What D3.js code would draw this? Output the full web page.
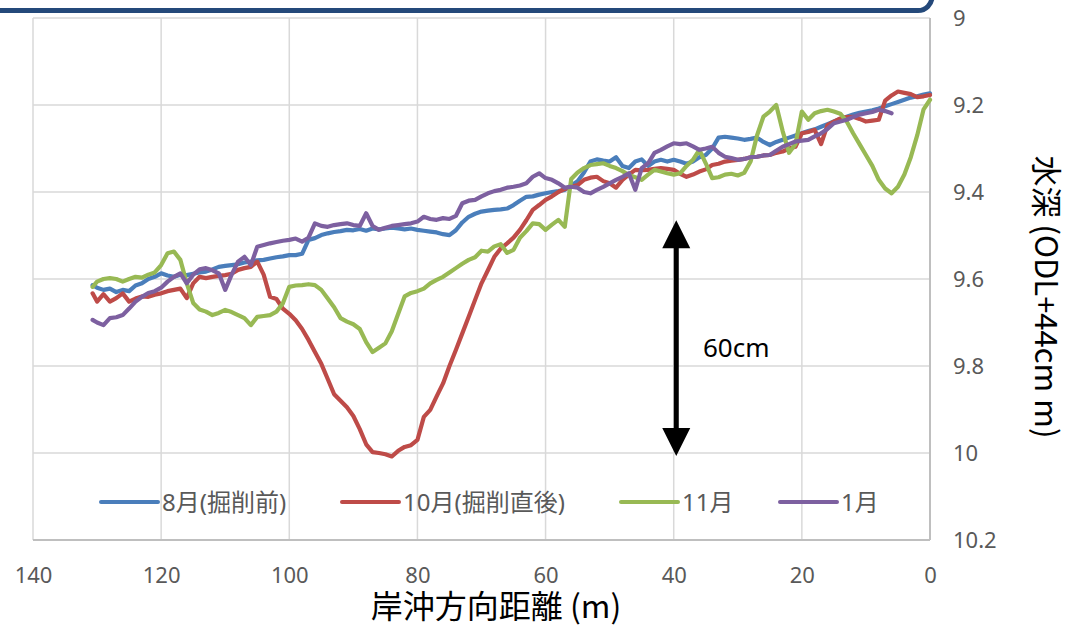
<!DOCTYPE html>
<html>
<head>
<meta charset="utf-8">
<script src="https://cdn.jsdelivr.net/npm/d3@7"></script>
<style>
  body { margin: 0; background: #fff; }
  svg { display: block; font-family: "Noto Sans", "Noto Sans CJK JP", sans-serif; }
</style>
</head>
<body>
<div id="chart"></div>
<script>
// distance from shore (m), one sample per metre
const dist = [130.7].concat(d3.range(130, -1, -1));

const seriesNames = ['8月(掘削前)', '10月(掘削直後)', '11月', '1月'];
const seriesColors = ['#4a7ebb', '#be4b48', '#98b954', '#7d60a0'];

// 8月
const aug = [
  9.614, 9.62, 9.625, 9.622, 9.63, 9.625, 9.628, 9.615, 9.61, 9.60,
  9.595, 9.587, 9.592, 9.595, 9.59, 9.591, 9.588, 9.585, 9.583, 9.578,
  9.572, 9.57, 9.568, 9.566, 9.562, 9.56, 9.557, 9.556, 9.553, 9.55,
  9.548, 9.545, 9.545, 9.542, 9.51, 9.506, 9.499, 9.495, 9.492, 9.49,
  9.487, 9.488, 9.485, 9.489, 9.484, 9.486, 9.484, 9.482, 9.484, 9.486,
  9.484, 9.487, 9.489, 9.491, 9.493, 9.497, 9.499, 9.488, 9.47, 9.457,
  9.45, 9.445, 9.443, 9.441, 9.44, 9.438, 9.43, 9.42, 9.411, 9.41,
  9.406, 9.403, 9.40, 9.398, 9.395, 9.385, 9.375, 9.355, 9.33, 9.325,
  9.328, 9.33, 9.32, 9.34, 9.345, 9.33, 9.325, 9.34, 9.33, 9.326,
  9.33, 9.326, 9.33, 9.335, 9.33, 9.32, 9.315, 9.30, 9.275, 9.273,
  9.275, 9.277, 9.28, 9.278, 9.275, 9.285, 9.292, 9.285, 9.28, 9.275,
  9.27, 9.265, 9.26, 9.256, 9.25, 9.244, 9.238, 9.232, 9.227, 9.222,
  9.218, 9.215, 9.212, 9.208, 9.203, 9.198, 9.193, 9.188, 9.183, 9.18,
  9.176, 9.173
];

// 10月
const oct = [
  9.633, 9.652, 9.635, 9.652, 9.644, 9.633, 9.652, 9.645, 9.64, 9.641,
  9.636, 9.633, 9.628, 9.625, 9.622, 9.644, 9.61, 9.595, 9.598, 9.595,
  9.593, 9.591, 9.588, 9.579, 9.575, 9.572, 9.56, 9.59, 9.641, 9.646,
  9.668, 9.68, 9.695, 9.715, 9.74, 9.768, 9.795, 9.83, 9.865, 9.88,
  9.895, 9.915, 9.945, 9.98, 9.998, 10.0, 10.003, 10.008, 9.995, 9.986,
  9.982, 9.97, 9.917, 9.901, 9.87, 9.84, 9.8, 9.763, 9.725, 9.687,
  9.648, 9.61, 9.58, 9.549, 9.53, 9.518, 9.505, 9.487, 9.465, 9.441,
  9.43, 9.418, 9.41, 9.40, 9.393, 9.388, 9.384, 9.372, 9.367, 9.365,
  9.375, 9.38, 9.39, 9.372, 9.36, 9.349, 9.35, 9.349, 9.347, 9.345,
  9.347, 9.349, 9.358, 9.365, 9.36, 9.353, 9.348, 9.338, 9.335, 9.33,
  9.328, 9.326, 9.324, 9.32, 9.319, 9.316, 9.315, 9.31, 9.307, 9.30,
  9.296, 9.265, 9.262, 9.257, 9.29, 9.246, 9.238, 9.231, 9.228, 9.227,
  9.232, 9.238, 9.236, 9.234, 9.19, 9.178, 9.169, 9.172, 9.175, 9.182,
  9.18, 9.177
];

// 11月
const nov = [
  9.618, 9.606, 9.60, 9.598, 9.60, 9.606, 9.60, 9.595, 9.597, 9.59,
  9.585, 9.568, 9.541, 9.537, 9.556, 9.61, 9.655, 9.67, 9.675, 9.683,
  9.678, 9.671, 9.676, 9.683, 9.69, 9.706, 9.687, 9.685, 9.683, 9.675,
  9.656, 9.618, 9.615, 9.614, 9.612, 9.614, 9.625, 9.645, 9.665, 9.69,
  9.698, 9.704, 9.715, 9.745, 9.768, 9.758, 9.748, 9.72, 9.68, 9.64,
  9.632, 9.628, 9.622, 9.61, 9.602, 9.595, 9.585, 9.575, 9.565, 9.556,
  9.55, 9.535, 9.537, 9.525, 9.52, 9.54, 9.533, 9.505, 9.49, 9.472,
  9.474, 9.487, 9.475, 9.464, 9.48, 9.37, 9.355, 9.345, 9.338, 9.336,
  9.334, 9.34, 9.345, 9.352, 9.361, 9.366, 9.372, 9.36, 9.349, 9.353,
  9.357, 9.36, 9.357, 9.34, 9.326, 9.303, 9.334, 9.368, 9.366, 9.36,
  9.358, 9.362, 9.356, 9.33, 9.27, 9.227, 9.215, 9.2, 9.26, 9.31,
  9.29, 9.215, 9.234, 9.219, 9.214, 9.211, 9.215, 9.22, 9.238, 9.265,
  9.29, 9.315, 9.34, 9.372, 9.392, 9.403, 9.388, 9.36, 9.32, 9.27,
  9.21, 9.188
];

// 1月 (survey stops near 5 m)
const jan = [
  9.694, 9.70, 9.706, 9.69, 9.688, 9.683, 9.668, 9.652, 9.641, 9.632,
  9.628, 9.62, 9.606, 9.595, 9.587, 9.61, 9.59, 9.578, 9.575, 9.58,
  9.587, 9.625, 9.59, 9.56, 9.549, 9.568, 9.526, 9.522, 9.518, 9.515,
  9.512, 9.51, 9.507, 9.514, 9.505, 9.472, 9.478, 9.48, 9.476, 9.474,
  9.472, 9.476, 9.478, 9.449, 9.478, 9.487, 9.482, 9.478, 9.476, 9.474,
  9.472, 9.468, 9.457, 9.462, 9.464, 9.46, 9.462, 9.455, 9.426, 9.42,
  9.418, 9.41, 9.403, 9.398, 9.395, 9.39, 9.388, 9.385, 9.38, 9.365,
  9.357, 9.368, 9.372, 9.38, 9.39, 9.388, 9.39, 9.40, 9.403, 9.395,
  9.388, 9.38, 9.372, 9.365, 9.357, 9.395, 9.345, 9.334, 9.31, 9.303,
  9.295, 9.288, 9.29, 9.288, 9.295, 9.303, 9.30, 9.296, 9.31, 9.319,
  9.322, 9.326, 9.324, 9.32, 9.319, 9.316, 9.315, 9.305, 9.296, 9.29,
  9.284, 9.282, 9.28, 9.272, 9.265, 9.255, 9.242, 9.238, 9.234, 9.228,
  9.222, 9.219, 9.216, 9.211, 9.214, 9.219, null, null, null, null,
  null, null
];

const xTicks = [140, 120, 100, 80, 60, 40, 20, 0];
const yTicks = [9, 9.2, 9.4, 9.6, 9.8, 10, 10.2];

// arrow marking the 60cm scour depth
const arrowAt = 39.6;
const arrowRange = [9.465, 10.007];

const W = 1067, H = 626;
const plot = {left: 33, right: 930, top: 18, bottom: 540};

const svg = d3.select('#chart').append('svg')
    .attr('width', W)
    .attr('height', H);

svg.append('rect').attr('width', W).attr('height', H).attr('fill', '#fff');

const x = d3.scaleLinear().domain([140, 0]).range([plot.left, plot.right]);
const y = d3.scaleLinear().domain([9, 10.2]).range([plot.top, plot.bottom]);

// gridlines
svg.append('g')
    .selectAll('line')
    .data(xTicks.slice(0, -1))
    .join('line')
    .attr('x1', d => x(d)).attr('x2', d => x(d))
    .attr('y1', plot.top).attr('y2', plot.bottom)
    .attr('stroke', '#d9d9d9').attr('stroke-width', 1.5);

svg.append('g')
    .selectAll('line')
    .data(yTicks.slice(0, -1))
    .join('line')
    .attr('x1', plot.left).attr('x2', plot.right)
    .attr('y1', d => y(d)).attr('y2', d => y(d))
    .attr('stroke', '#d9d9d9').attr('stroke-width', 1.5);

// axis lines
svg.append('line')
    .attr('x1', plot.left).attr('x2', plot.right)
    .attr('y1', plot.bottom).attr('y2', plot.bottom)
    .attr('stroke', '#bfbfbf').attr('stroke-width', 2);
svg.append('line')
    .attr('x1', plot.right).attr('x2', plot.right)
    .attr('y1', plot.top).attr('y2', plot.bottom)
    .attr('stroke', '#bfbfbf').attr('stroke-width', 2);

// axes (labels only)
const xAxis = svg.append('g')
    .attr('transform', `translate(0,${plot.bottom})`)
    .call(d3.axisBottom(x).tickValues(xTicks).tickSize(0).tickPadding(27).tickFormat(d3.format('d')));
const yAxis = svg.append('g')
    .attr('transform', `translate(${plot.right},0)`)
    .call(d3.axisRight(y).tickValues(yTicks).tickSize(0).tickPadding(23).tickFormat(d => String(+d.toFixed(1))));

[xAxis, yAxis].forEach(a => {
    a.select('.domain').remove();
    a.selectAll('text')
        .attr('fill', '#595959')
        .style('font-size', '22px')
        .style('font-family', '"Noto Sans", sans-serif');
});

// series lines
const series = [aug, oct, nov, jan];
const line = d3.line()
    .defined(d => d.v != null)
    .x(d => x(d.d))
    .y(d => y(d.v));

series.forEach((vals, i) => {
    const pts = dist.map((d, j) => ({d: d, v: vals[j]}));
    svg.append('path')
        .datum(pts)
        .attr('fill', 'none')
        .attr('stroke', seriesColors[i])
        .attr('stroke-width', 4.2)
        .attr('stroke-linejoin', 'round')
        .attr('stroke-linecap', 'round')
        .attr('d', line);
});

// legend
const legendX = [101, 342, 621, 780];
const legendY = 502;
const legend = svg.append('g');
seriesNames.forEach((name, i) => {
    legend.append('line')
        .attr('x1', legendX[i]).attr('x2', legendX[i] + 57)
        .attr('y1', legendY).attr('y2', legendY)
        .attr('stroke', seriesColors[i])
        .attr('stroke-width', 4)
        .attr('stroke-linecap', 'round');
    legend.append('text')
        .attr('x', legendX[i] + 61)
        .attr('y', legendY)
        .attr('dy', '0.36em')
        .attr('fill', '#595959')
        .style('font-size', '24px')
        .text(name);
});

// double arrow
const ax = x(arrowAt);
const yTop = y(arrowRange[0]), yBot = y(arrowRange[1]);
const head = 28, half = 14;
svg.append('line')
    .attr('x1', ax).attr('x2', ax)
    .attr('y1', yTop + head - 2).attr('y2', yBot - head + 2)
    .attr('stroke', '#000').attr('stroke-width', 5);
svg.append('path')
    .attr('d', `M${ax},${yTop}L${ax + half},${yTop + head}L${ax - half},${yTop + head}Z`)
    .attr('fill', '#000');
svg.append('path')
    .attr('d', `M${ax},${yBot}L${ax + half},${yBot - head}L${ax - half},${yBot - head}Z`)
    .attr('fill', '#000');
svg.append('text')
    .attr('x', 703).attr('y', 357)
    .style('font-size', '26px')
    .attr('fill', '#000')
    .text('60cm');

// axis titles
svg.append('text')
    .attr('x', 496).attr('y', 618)
    .attr('text-anchor', 'middle')
    .style('font-size', '32px')
    .style('font-family', '"Noto Sans CJK JP", sans-serif')
    .attr('fill', '#000')
    .text('岸沖方向距離 (m)');

svg.append('text')
    .attr('transform', 'translate(1035,297) rotate(90)')
    .attr('text-anchor', 'middle')
    .style('font-size', '31px')
    .style('font-family', '"Noto Sans CJK JP", sans-serif')
    .attr('fill', '#000')
    .text('水深 (ODL+44cm m)');

// blue box edge at the top
svg.append('rect')
    .attr('x', -20).attr('y', -60)
    .attr('width', 952).attr('height', 70.5)
    .attr('rx', 14)
    .attr('fill', '#fff')
    .attr('stroke', '#24497a')
    .attr('stroke-width', 5);
</script>
</body>
</html>
